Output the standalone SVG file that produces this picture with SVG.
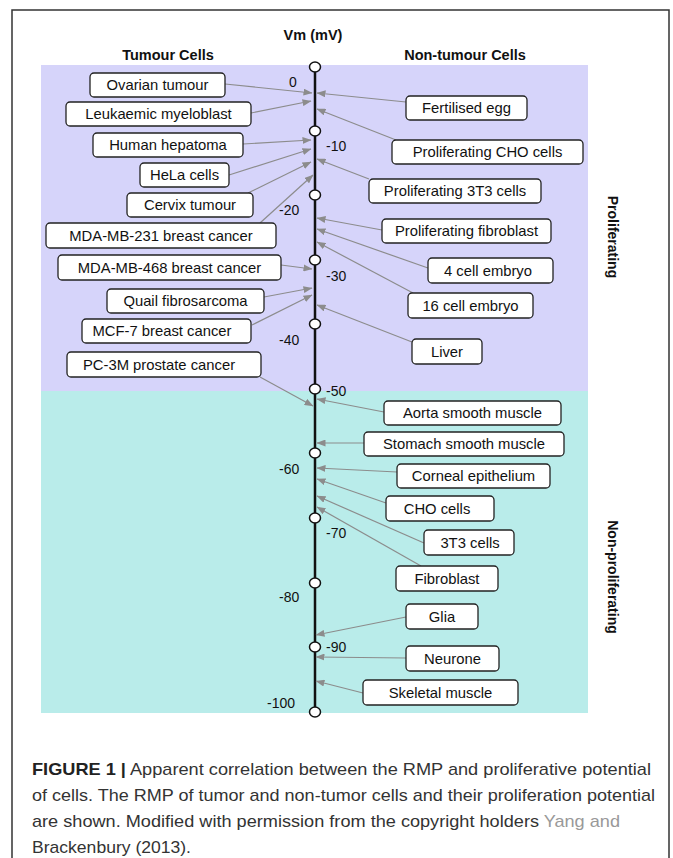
<svg xmlns="http://www.w3.org/2000/svg" width="673" height="858" viewBox="0 0 673 858">
<defs>
<style>
.box{fill:#fff;stroke:#222;stroke-width:1.3}
.bt{font-family:"Liberation Sans",Arial,sans-serif;font-size:14.8px;fill:#111;text-anchor:middle}
.hd{font-family:"Liberation Sans",Arial,sans-serif;font-size:14.5px;font-weight:bold;fill:#111;text-anchor:middle}
.vt{font-family:"Liberation Sans",Arial,sans-serif;font-size:14px;font-weight:bold;fill:#111;text-anchor:middle}
.ax{font-family:"Liberation Sans",Arial,sans-serif;font-size:14px;fill:#111}
.tick{fill:#fff;stroke:#111;stroke-width:1.5}
.con{stroke:#8c8c8c;stroke-width:1.2;fill:none;marker-end:url(#ah)}
.cap{font-family:"Liberation Sans",Arial,sans-serif;font-size:17px;fill:#333}
</style>
<marker id="ah" markerWidth="9" markerHeight="7" refX="8.5" refY="3.5" orient="auto" markerUnits="userSpaceOnUse">
<path d="M0,0 L9,3.5 L0,7 z" fill="#8c8c8c"/>
</marker>
</defs>
<rect width="673" height="858" fill="#fff"/>
<path d="M12,858 V10 H669 V858" fill="none" stroke="#333" stroke-width="1.5"/>
<rect x="41" y="65" width="547" height="326" fill="#d6d4fa"/>
<rect x="41" y="391" width="547" height="322" fill="#b9ecea"/>

<text class="hd" x="313" y="40">Vm (mV)</text>
<text class="hd" x="168" y="60">Tumour Cells</text>
<text class="hd" x="465" y="60">Non-tumour Cells</text>
<text class="vt" transform="translate(608,237) rotate(90)">Proliferating</text>
<text class="vt" transform="translate(608,577) rotate(90)">Non-proliferating</text>

<g id="axis">
<line x1="315" y1="67" x2="315" y2="712" stroke="#111" stroke-width="2.5"/>
<ellipse class="tick" cx="315" cy="67" rx="5.5" ry="5"/>
<ellipse class="tick" cx="315" cy="131" rx="5.5" ry="5"/>
<ellipse class="tick" cx="315" cy="195" rx="5.5" ry="5"/>
<ellipse class="tick" cx="315" cy="260" rx="5.5" ry="5"/>
<ellipse class="tick" cx="315" cy="324" rx="5.5" ry="5"/>
<ellipse class="tick" cx="315" cy="389" rx="5.5" ry="5"/>
<ellipse class="tick" cx="315" cy="453" rx="5.5" ry="5"/>
<ellipse class="tick" cx="315" cy="518" rx="5.5" ry="5"/>
<ellipse class="tick" cx="315" cy="583" rx="5.5" ry="5"/>
<ellipse class="tick" cx="315" cy="647" rx="5.5" ry="5"/>
<ellipse class="tick" cx="315" cy="712" rx="5.5" ry="5"/>
<text class="ax" x="289" y="87">0</text>
<text class="ax" x="326" y="151">-10</text>
<text class="ax" x="279" y="215">-20</text>
<text class="ax" x="326" y="281">-30</text>
<text class="ax" x="279" y="345">-40</text>
<text class="ax" x="326" y="396">-50</text>
<text class="ax" x="279" y="474">-60</text>
<text class="ax" x="326" y="538">-70</text>
<text class="ax" x="279" y="602">-80</text>
<text class="ax" x="326" y="652">-90</text>
<text class="ax" x="267" y="708">-100</text>
</g>

<g id="connectors">
<line class="con" x1="225" y1="84" x2="312" y2="93"/>
<line class="con" x1="251" y1="113" x2="311" y2="101"/>
<line class="con" x1="243" y1="144" x2="311" y2="140"/>
<line class="con" x1="229" y1="175" x2="311" y2="149"/>
<line class="con" x1="248" y1="193" x2="311" y2="162"/>
<line class="con" x1="260" y1="223" x2="313" y2="175"/>
<line class="con" x1="281" y1="265" x2="312" y2="269"/>
<line class="con" x1="264" y1="297" x2="312" y2="288"/>
<line class="con" x1="252" y1="325" x2="312" y2="295"/>
<line class="con" x1="260" y1="377" x2="313" y2="406"/>
<line class="con" x1="406" y1="102" x2="317" y2="93"/>
<line class="con" x1="396" y1="140" x2="317" y2="109"/>
<line class="con" x1="369" y1="179" x2="317" y2="159"/>
<line class="con" x1="382" y1="230" x2="317" y2="218"/>
<line class="con" x1="428" y1="268" x2="317" y2="229"/>
<line class="con" x1="413" y1="293" x2="317" y2="242"/>
<line class="con" x1="412" y1="342" x2="317" y2="305"/>
<line class="con" x1="384" y1="412" x2="317" y2="399"/>
<line class="con" x1="364" y1="443" x2="317" y2="443"/>
<line class="con" x1="397" y1="472" x2="317" y2="468"/>
<line class="con" x1="386" y1="503" x2="317" y2="479"/>
<line class="con" x1="424" y1="543" x2="317" y2="496"/>
<line class="con" x1="421" y1="566" x2="317" y2="507"/>
<line class="con" x1="406" y1="617" x2="316" y2="635"/>
<line class="con" x1="406" y1="658" x2="316" y2="657"/>
<line class="con" x1="363" y1="693" x2="316" y2="681"/>
</g>

<g id="n-ovarian"><rect class="box" x="90" y="73" width="135" height="24" rx="4"/><text class="bt" x="157.5" y="90">Ovarian tumour</text></g>
<g id="n-leukaemic"><rect class="box" x="66" y="102" width="185" height="24" rx="4"/><text class="bt" x="158.5" y="119">Leukaemic myeloblast</text></g>
<g id="n-hepatoma"><rect class="box" x="93" y="133" width="150" height="24" rx="4"/><text class="bt" x="168" y="150">Human hepatoma</text></g>
<g id="n-hela"><rect class="box" x="140" y="163" width="89" height="24" rx="4"/><text class="bt" x="184.5" y="180">HeLa cells</text></g>
<g id="n-cervix"><rect class="box" x="127" y="193" width="126" height="24" rx="4"/><text class="bt" x="190" y="210">Cervix tumour</text></g>
<g id="n-mda231"><rect class="box" x="46" y="223" width="230" height="25" rx="4"/><text class="bt" x="161" y="240.5">MDA-MB-231 breast cancer</text></g>
<g id="n-mda468"><rect class="box" x="58" y="255" width="223" height="25" rx="4"/><text class="bt" x="169.5" y="272.5">MDA-MB-468 breast cancer</text></g>
<g id="n-quail"><rect class="box" x="107" y="289" width="157" height="24" rx="4"/><text class="bt" x="185.5" y="306">Quail fibrosarcoma</text></g>
<g id="n-mcf7"><rect class="box" x="82" y="319" width="169" height="24" rx="4"/><text class="bt" x="162" y="336">MCF-7 breast cancer</text></g>
<g id="n-pc3m"><rect class="box" x="67" y="352" width="194" height="25" rx="4"/><text class="bt" x="159" y="369.5">PC-3M prostate cancer</text></g>

<g id="n-egg"><rect class="box" x="406" y="96" width="121" height="24" rx="4"/><text class="bt" x="466.5" y="113">Fertilised egg</text></g>
<g id="n-pcho"><rect class="box" x="392" y="140" width="191" height="24" rx="4"/><text class="bt" x="487.5" y="157">Proliferating CHO cells</text></g>
<g id="n-p3t3"><rect class="box" x="369" y="179" width="172" height="24" rx="4"/><text class="bt" x="455" y="196">Proliferating 3T3 cells</text></g>
<g id="n-pfib"><rect class="box" x="382" y="219" width="169" height="24" rx="4"/><text class="bt" x="466.5" y="236">Proliferating fibroblast</text></g>
<g id="n-4cell"><rect class="box" x="428" y="258" width="125" height="25" rx="4"/><text class="bt" x="488" y="275.5">4 cell embryo</text></g>
<g id="n-16cell"><rect class="box" x="408" y="293" width="125" height="25" rx="4"/><text class="bt" x="470.5" y="310.5">16 cell embryo</text></g>
<g id="n-liver"><rect class="box" x="412" y="339" width="70" height="25" rx="4"/><text class="bt" x="447" y="356.5">Liver</text></g>
<g id="n-aorta"><rect class="box" x="384" y="401" width="177" height="24" rx="4"/><text class="bt" x="472.5" y="418">Aorta smooth muscle</text></g>
<g id="n-stomach"><rect class="box" x="364" y="432" width="200" height="24" rx="4"/><text class="bt" x="464" y="449">Stomach smooth muscle</text></g>
<g id="n-corneal"><rect class="box" x="397" y="464" width="153" height="24" rx="4"/><text class="bt" x="473.5" y="481">Corneal epithelium</text></g>
<g id="n-cho"><rect class="box" x="386" y="496" width="108" height="25" rx="4"/><text class="bt" x="437" y="513.5">CHO cells</text></g>
<g id="n-3t3"><rect class="box" x="424" y="530" width="90" height="25" rx="4"/><text class="bt" x="470" y="547.5">3T3 cells</text></g>
<g id="n-fibroblast"><rect class="box" x="396" y="566" width="102" height="25" rx="4"/><text class="bt" x="447" y="583.5">Fibroblast</text></g>
<g id="n-glia"><rect class="box" x="406" y="604" width="72" height="25" rx="4"/><text class="bt" x="442" y="621.5">Glia</text></g>
<g id="n-neurone"><rect class="box" x="406" y="646" width="93" height="25" rx="4"/><text class="bt" x="452.5" y="663.5">Neurone</text></g>
<g id="n-skeletal"><rect class="box" x="363" y="680" width="155" height="25" rx="4"/><text class="bt" x="440.5" y="697.5">Skeletal muscle</text></g>

<g id="caption">
<text class="cap" x="32" y="775" textLength="619" lengthAdjust="spacingAndGlyphs"><tspan font-weight="bold" fill="#222">FIGURE 1 |</tspan> Apparent correlation between the RMP and proliferative potential</text>
<text class="cap" x="32" y="801" textLength="623" lengthAdjust="spacingAndGlyphs">of cells. The RMP of tumor and non-tumor cells and their proliferation potential</text>
<text class="cap" x="32" y="827" textLength="588" lengthAdjust="spacingAndGlyphs">are shown. Modified with permission from the copyright holders <tspan fill="#999">Yang and</tspan></text>
<text class="cap" x="32" y="853" textLength="159" lengthAdjust="spacingAndGlyphs" fill="#999">Brackenbury (2013).</text>
</g>
</svg>
